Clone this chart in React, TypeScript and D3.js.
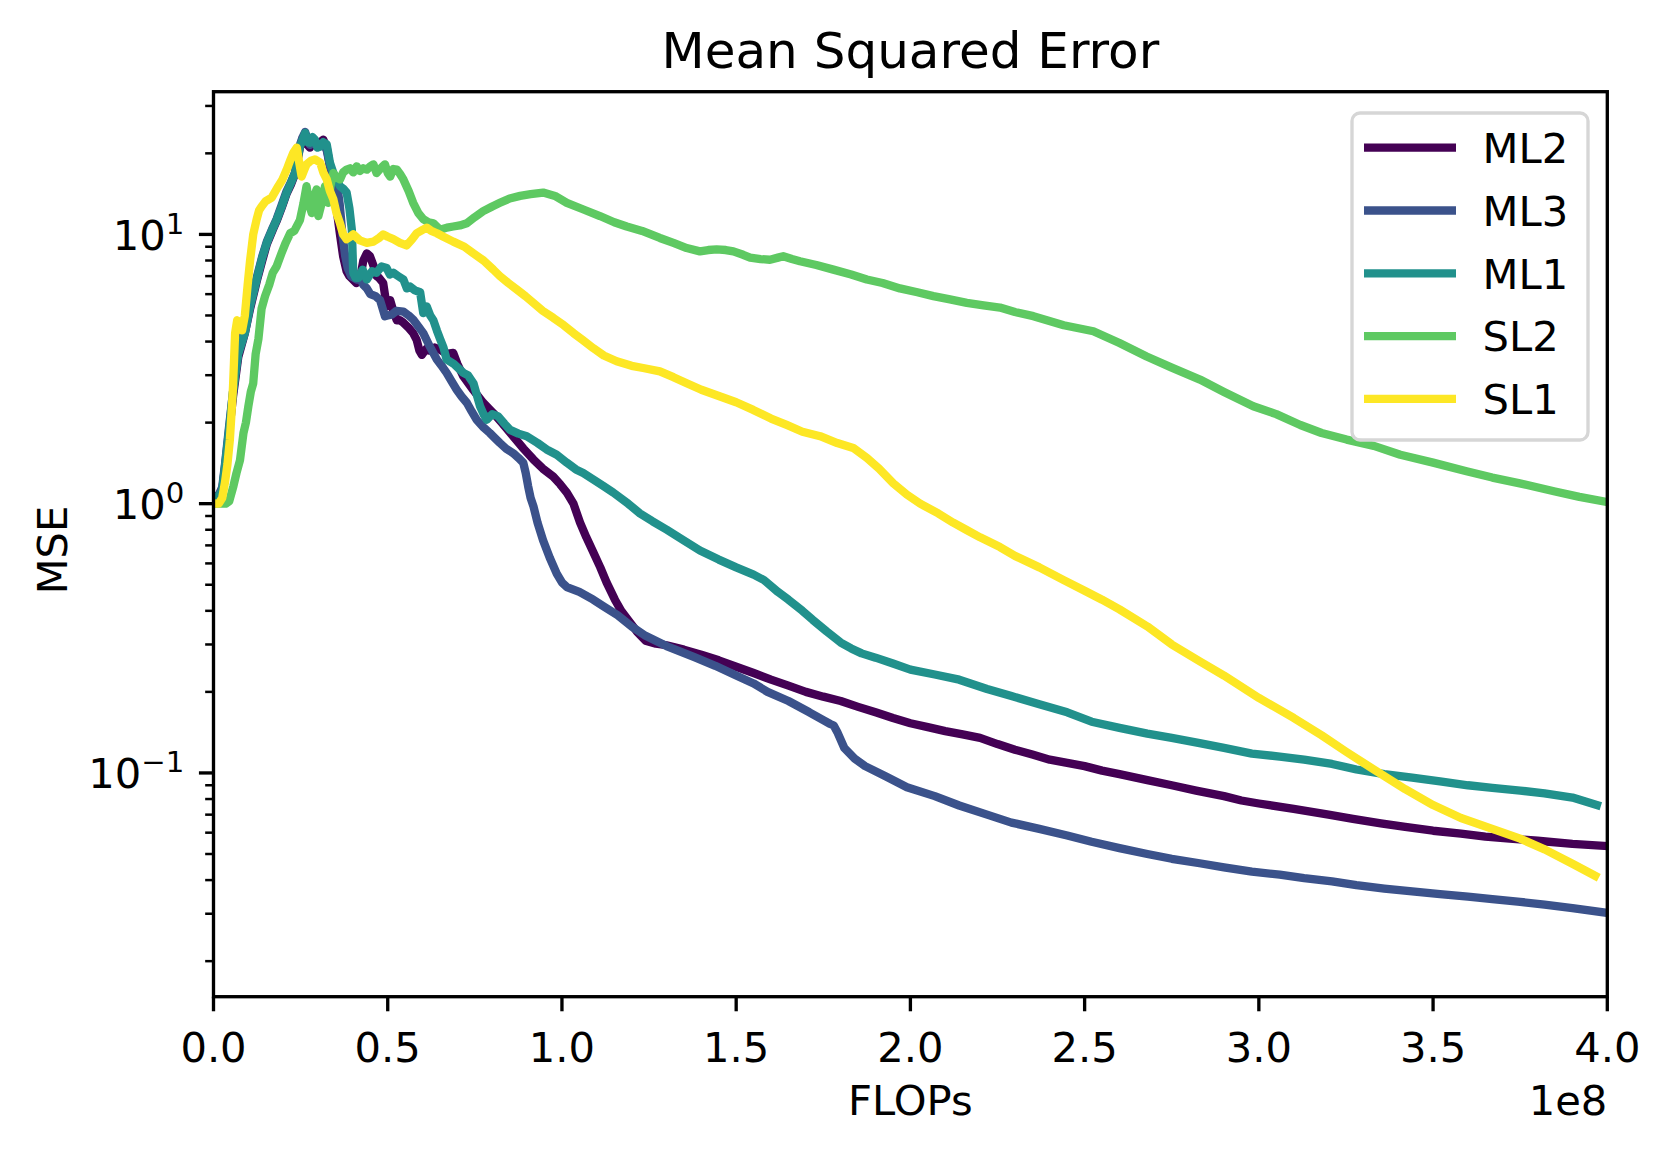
import React from 'react';
import * as d3 from 'd3';

// ---------------- data (x in units of 1e8 FLOPs) ----------------
const seriesNames = ['ML2', 'ML3', 'ML1', 'SL2', 'SL1'];
const seriesColors = ['#440154', '#3b528b', '#21918c', '#5ec962', '#fde725'];

const ml2X = [0, 0.015, 0.025, 0.033, 0.045, 0.056, 0.071, 0.09, 0.105, 0.124, 0.14, 0.153, 0.17, 0.181, 0.195, 0.21, 0.222, 0.234, 0.248, 0.256, 0.263, 0.27, 0.277, 0.284, 0.291, 0.298, 0.306, 0.315, 0.325, 0.334, 0.344, 0.353, 0.363, 0.372, 0.382, 0.39, 0.4, 0.41, 0.421, 0.43, 0.44, 0.449, 0.46, 0.468, 0.475, 0.487, 0.497, 0.507, 0.516, 0.526, 0.535, 0.545, 0.56, 0.573, 0.583, 0.591, 0.598, 0.61, 0.62, 0.635, 0.65, 0.67, 0.688, 0.7, 0.717, 0.745, 0.774, 0.803, 0.83, 0.86, 0.89, 0.918, 0.945, 0.975, 0.995, 1.014, 1.033, 1.052, 1.07, 1.09, 1.11, 1.128, 1.152, 1.17, 1.19, 1.215, 1.24, 1.27, 1.3, 1.35, 1.4, 1.45, 1.5, 1.55, 1.6, 1.65, 1.7, 1.75, 1.8, 1.85, 1.9, 1.95, 2.0, 2.05, 2.1, 2.15, 2.2, 2.25, 2.3, 2.35, 2.4, 2.45, 2.5, 2.55, 2.6, 2.68, 2.75, 2.82, 2.9, 2.95, 3.0, 3.1, 3.2, 3.27, 3.35, 3.42, 3.5, 3.58, 3.65, 3.72, 3.8, 3.9, 4.0];
const ml2Y = [1.05, 1.07, 1.12, 1.35, 1.85, 2.5, 3.5, 4.3, 5.3, 6.7, 8.0, 9.2, 10.4, 11.2, 12.5, 14.2, 15.3, 16.8, 21.0, 22.8, 23.5, 21.5, 21.0, 22.5, 22.0, 21.5, 22.0, 22.5, 21.0, 18.0, 15.5, 12.5, 10.0, 8.3, 7.3, 7.0, 6.8, 6.6, 6.9, 8.0, 8.5, 8.3, 7.6, 7.0, 6.9, 6.6, 5.4, 5.7, 5.2, 4.8, 4.8, 4.7, 4.5, 4.3, 4.06, 3.7, 3.57, 3.75, 3.7, 3.8, 3.73, 3.6, 3.63, 3.3, 2.97, 2.65, 2.37, 2.17, 1.98, 1.78, 1.6, 1.46, 1.35, 1.26, 1.18, 1.1, 1.0, 0.85, 0.75, 0.66, 0.58, 0.51, 0.44, 0.4, 0.37, 0.335, 0.31, 0.302, 0.298, 0.287, 0.275, 0.262, 0.248, 0.235, 0.222, 0.211, 0.2, 0.192, 0.185, 0.176, 0.168, 0.16, 0.153, 0.148, 0.143, 0.139, 0.135, 0.128, 0.122, 0.117, 0.112, 0.109, 0.106, 0.102, 0.099, 0.094, 0.09, 0.086, 0.082, 0.079, 0.077, 0.0735, 0.07, 0.0675, 0.065, 0.063, 0.061, 0.0595, 0.058, 0.057, 0.056, 0.0545, 0.0535];

const ml3X = [0, 0.015, 0.025, 0.033, 0.045, 0.056, 0.071, 0.09, 0.105, 0.124, 0.14, 0.153, 0.17, 0.181, 0.195, 0.21, 0.222, 0.234, 0.248, 0.256, 0.263, 0.27, 0.277, 0.284, 0.291, 0.298, 0.306, 0.315, 0.325, 0.334, 0.344, 0.354, 0.362, 0.37, 0.378, 0.385, 0.395, 0.411, 0.42, 0.43, 0.44, 0.45, 0.465, 0.478, 0.492, 0.5, 0.511, 0.525, 0.545, 0.56, 0.573, 0.588, 0.602, 0.62, 0.641, 0.655, 0.669, 0.683, 0.698, 0.712, 0.727, 0.741, 0.755, 0.775, 0.793, 0.808, 0.822, 0.84, 0.86, 0.875, 0.889, 0.896, 0.903, 0.91, 0.918, 0.93, 0.946, 0.965, 0.985, 1.0, 1.014, 1.05, 1.09, 1.12, 1.16, 1.2, 1.24, 1.3, 1.38, 1.44, 1.5, 1.55, 1.59, 1.65, 1.71, 1.75, 1.77, 1.78, 1.79, 1.81, 1.84, 1.87, 1.93, 1.99, 2.07, 2.14, 2.22, 2.29, 2.37, 2.45, 2.52, 2.6, 2.68, 2.75, 2.83, 2.9, 2.98, 3.06, 3.13, 3.21, 3.28, 3.36, 3.44, 3.52, 3.6, 3.67, 3.75, 3.82, 3.9, 4.0];
const ml3Y = [1.05, 1.08, 1.15, 1.4, 1.95, 2.6, 3.7, 4.4, 5.5, 6.9, 8.3, 9.4, 10.6, 11.4, 12.8, 14.5, 15.6, 17.0, 21.5, 23.0, 24.0, 22.5, 21.5, 22.8, 22.2, 21.2, 21.5, 21.8, 20.5, 18.0, 16.5, 15.5, 13.0, 10.0, 8.3, 7.5, 7.0, 6.8, 6.9, 6.5, 6.3, 6.0, 5.9, 5.7, 4.97, 5.0, 5.03, 5.2, 5.17, 5.0, 4.83, 4.55, 4.3, 3.85, 3.43, 3.25, 3.06, 2.85, 2.65, 2.5, 2.37, 2.2, 2.05, 1.92, 1.83, 1.75, 1.68, 1.6, 1.54, 1.48, 1.42, 1.3, 1.16, 1.05, 0.98, 0.85, 0.73, 0.63, 0.55, 0.51, 0.49, 0.47, 0.44, 0.415, 0.385, 0.35, 0.323, 0.296, 0.269, 0.25, 0.23, 0.215, 0.2, 0.185, 0.168, 0.157, 0.152, 0.15, 0.142, 0.124, 0.113, 0.106, 0.097, 0.0885, 0.082, 0.0757, 0.07, 0.0654, 0.062, 0.0586, 0.0555, 0.0526, 0.05, 0.048, 0.0462, 0.0446, 0.043, 0.0419, 0.0407, 0.0396, 0.0383, 0.0372, 0.0363, 0.0355, 0.0347, 0.034, 0.0332, 0.0324, 0.0315, 0.0302];

const ml1X = [0, 0.015, 0.025, 0.033, 0.045, 0.056, 0.071, 0.09, 0.105, 0.124, 0.14, 0.153, 0.17, 0.181, 0.195, 0.21, 0.222, 0.234, 0.248, 0.256, 0.263, 0.27, 0.277, 0.284, 0.291, 0.298, 0.306, 0.315, 0.325, 0.334, 0.344, 0.353, 0.363, 0.372, 0.382, 0.39, 0.397, 0.401, 0.408, 0.416, 0.428, 0.44, 0.455, 0.468, 0.482, 0.497, 0.506, 0.516, 0.53, 0.545, 0.555, 0.564, 0.578, 0.593, 0.602, 0.612, 0.622, 0.631, 0.641, 0.65, 0.66, 0.669, 0.69, 0.717, 0.73, 0.746, 0.755, 0.765, 0.775, 0.784, 0.8, 0.817, 0.835, 0.851, 0.875, 0.899, 0.93, 0.956, 0.985, 1.014, 1.04, 1.061, 1.09, 1.12, 1.147, 1.19, 1.224, 1.26, 1.301, 1.35, 1.396, 1.45, 1.5, 1.55, 1.58, 1.62, 1.65, 1.69, 1.72, 1.76, 1.8, 1.83, 1.86, 1.9, 1.95, 2.0, 2.07, 2.14, 2.22, 2.29, 2.37, 2.45, 2.52, 2.6, 2.68, 2.75, 2.83, 2.9, 2.98, 3.06, 3.13, 3.21, 3.28, 3.36, 3.44, 3.52, 3.6, 3.67, 3.75, 3.82, 3.9, 3.97];
const ml1Y = [1.05, 1.07, 1.12, 1.38, 1.9, 2.6, 3.6, 4.3, 5.4, 6.8, 8.2, 9.3, 10.5, 11.3, 12.6, 14.3, 15.5, 16.9, 21.2, 22.5, 23.8, 22.0, 21.9, 23.0, 22.5, 21.0, 21.2, 22.0, 21.6, 18.5, 16.9, 16.0, 15.1, 14.8, 14.3, 12.5, 10.4, 7.2, 6.9, 6.9, 7.4, 6.8, 7.3, 7.2, 7.6, 7.5, 7.1, 7.2, 7.0, 6.8, 6.3, 6.4, 6.2, 6.1, 5.1, 5.4, 5.0, 4.8, 4.4, 4.1, 3.8, 3.43, 3.3, 3.06, 3.0, 2.8, 2.55, 2.3, 2.15, 2.05, 2.15, 2.11, 1.98, 1.88, 1.82, 1.78, 1.68, 1.59, 1.52, 1.42, 1.34, 1.3, 1.23, 1.16, 1.1, 1.0, 0.92, 0.86, 0.8, 0.73, 0.67, 0.62, 0.58, 0.545, 0.52, 0.47, 0.44, 0.4, 0.37, 0.335, 0.305, 0.29, 0.278, 0.268, 0.255, 0.242, 0.232, 0.222, 0.205, 0.193, 0.18, 0.168, 0.155, 0.147, 0.14, 0.135, 0.129, 0.124, 0.118, 0.115, 0.112, 0.108, 0.103, 0.099, 0.096, 0.093, 0.09, 0.088, 0.086, 0.084, 0.081, 0.076];

const sl2X = [0, 0.02, 0.035, 0.045, 0.057, 0.066, 0.076, 0.086, 0.093, 0.1, 0.107, 0.114, 0.121, 0.129, 0.138, 0.148, 0.16, 0.17, 0.181, 0.195, 0.207, 0.22, 0.232, 0.248, 0.258, 0.267, 0.275, 0.282, 0.29, 0.296, 0.301, 0.31, 0.32, 0.329, 0.337, 0.344, 0.352, 0.363, 0.372, 0.382, 0.392, 0.401, 0.411, 0.42, 0.43, 0.44, 0.45, 0.459, 0.468, 0.48, 0.492, 0.5, 0.507, 0.516, 0.526, 0.535, 0.545, 0.56, 0.573, 0.588, 0.602, 0.617, 0.631, 0.65, 0.67, 0.688, 0.707, 0.727, 0.75, 0.774, 0.8, 0.822, 0.85, 0.88, 0.91, 0.946, 0.98, 1.014, 1.06, 1.109, 1.15, 1.186, 1.23, 1.281, 1.32, 1.358, 1.396, 1.42, 1.444, 1.47, 1.492, 1.52, 1.54, 1.57, 1.597, 1.62, 1.635, 1.66, 1.683, 1.73, 1.779, 1.83, 1.875, 1.92, 1.97, 2.02, 2.066, 2.11, 2.162, 2.21, 2.257, 2.3, 2.353, 2.44, 2.525, 2.6, 2.678, 2.75, 2.831, 2.9, 2.984, 3.05, 3.119, 3.18, 3.252, 3.33, 3.406, 3.5, 3.596, 3.67, 3.749, 3.85, 3.92, 3.99];
const sl2Y = [1.0, 1.0, 1.0, 1.02, 1.16, 1.3, 1.45, 1.83, 2.0, 2.3, 2.6, 2.8, 3.6, 4.1, 5.3, 5.9, 6.5, 7.2, 7.6, 8.5, 9.3, 10.1, 10.3, 11.3, 13.0, 15.1, 12.8, 12.0, 14.0, 14.7, 11.7, 13.0, 15.1, 13.1, 15.5, 16.9, 16.3, 16.0, 17.0, 17.4, 17.6, 17.0, 17.9, 17.2, 17.6, 17.4, 17.9, 18.2, 16.9, 17.6, 18.2, 16.9, 16.4, 17.5, 17.4, 16.8, 16.0, 14.5, 13.1, 12.0, 11.4, 11.1, 11.0, 10.4, 10.6, 10.7, 10.8, 11.0, 11.6, 12.2, 12.7, 13.1, 13.6, 13.9, 14.1, 14.3, 13.9, 13.1, 12.4, 11.7, 11.1, 10.7, 10.3, 9.7, 9.3, 8.9, 8.65, 8.75, 8.8, 8.75, 8.65, 8.4, 8.2, 8.1, 8.05, 8.2, 8.3, 8.1, 7.95, 7.7, 7.4, 7.1, 6.8, 6.6, 6.3, 6.1, 5.9, 5.75, 5.57, 5.45, 5.35, 5.15, 4.97, 4.6, 4.37, 3.95, 3.52, 3.2, 2.89, 2.6, 2.3, 2.15, 1.96, 1.83, 1.73, 1.64, 1.52, 1.42, 1.32, 1.25, 1.19, 1.11, 1.06, 1.02];

const sl1X = [0, 0.015, 0.025, 0.033, 0.04, 0.047, 0.052, 0.056, 0.062, 0.068, 0.075, 0.082, 0.09, 0.098, 0.105, 0.114, 0.124, 0.131, 0.138, 0.15, 0.167, 0.186, 0.198, 0.21, 0.22, 0.229, 0.239, 0.246, 0.253, 0.26, 0.267, 0.28, 0.291, 0.306, 0.315, 0.325, 0.334, 0.344, 0.353, 0.363, 0.372, 0.382, 0.392, 0.401, 0.42, 0.44, 0.459, 0.475, 0.487, 0.5, 0.516, 0.535, 0.554, 0.57, 0.583, 0.6, 0.612, 0.625, 0.641, 0.66, 0.688, 0.72, 0.746, 0.775, 0.803, 0.822, 0.846, 0.87, 0.895, 0.918, 0.945, 0.975, 1.005, 1.033, 1.06, 1.09, 1.12, 1.157, 1.2, 1.233, 1.281, 1.32, 1.358, 1.4, 1.454, 1.5, 1.549, 1.6, 1.645, 1.69, 1.741, 1.79, 1.836, 1.875, 1.91, 1.951, 1.99, 2.028, 2.08, 2.123, 2.16, 2.2, 2.257, 2.3, 2.37, 2.44, 2.5, 2.55, 2.6, 2.68, 2.75, 2.83, 2.9, 3.0, 3.1, 3.18, 3.25, 3.33, 3.42, 3.5, 3.58, 3.67, 3.75, 3.82, 3.9, 3.965];
const sl1Y = [1.0, 1.0, 1.05, 1.2, 1.4, 1.73, 2.2, 2.72, 4.3, 4.8, 4.5, 4.4, 5.0, 6.5, 8.0, 10.0, 11.4, 12.3, 12.7, 13.3, 13.7, 15.1, 16.0, 17.4, 18.8, 20.1, 21.0, 18.5, 16.4, 17.3, 18.2, 18.8, 19.0, 18.5, 17.0, 16.0, 14.5, 13.5, 12.0, 11.0, 10.0, 9.6, 9.8, 10.0, 9.5, 9.3, 9.4, 9.7, 10.0, 9.8, 9.6, 9.3, 9.1, 9.6, 10.1, 10.4, 10.6, 10.3, 10.1, 9.8, 9.4, 9.0, 8.5, 8.0, 7.4, 7.0, 6.6, 6.25, 5.9, 5.57, 5.2, 4.9, 4.6, 4.3, 4.05, 3.78, 3.55, 3.38, 3.25, 3.19, 3.1, 2.95, 2.8, 2.65, 2.5, 2.38, 2.23, 2.07, 1.96, 1.85, 1.78, 1.68, 1.61, 1.48, 1.35, 1.19, 1.08, 1.0, 0.92, 0.85, 0.8, 0.75, 0.69, 0.64, 0.58, 0.52, 0.475, 0.44, 0.405, 0.35, 0.3, 0.26, 0.23, 0.19, 0.16, 0.138, 0.12, 0.103, 0.087, 0.076, 0.068, 0.062, 0.057, 0.052, 0.046, 0.0415];

const seriesX = [ml2X, ml3X, ml1X, sl2X, sl1X];
const seriesY = [ml2Y, ml3Y, ml1Y, sl2Y, sl1Y];

const xTicks = [0, 0.5, 1.0, 1.5, 2.0, 2.5, 3.0, 3.5, 4.0];
const yMajorTicks = [0.1, 1, 10];
const yMajorExponents = ['\u22121', '0', '1'];
const yMinorMultipliers = [2, 3, 4, 5, 6, 7, 8, 9];
const titleText = 'Mean Squared Error';
const xLabelText = 'FLOPs';
const yLabelText = 'MSE';
const xOffsetText = '1e8';

// ---------------- layout ----------------
const W = 1671;
const H = 1158;
const L = 213.5;
const R = 1607.3;
const T = 91.7;
const B = 996.7;
const FS = 41.67;
const FONT = '"DejaVu Sans", Verdana, sans-serif';

export default function App() {
  const x = d3.scaleLinear().domain([0, 4]).range([L, R]);
  const y = d3.scaleLog().domain([Math.pow(10, -1.831), Math.pow(10, 1.53)]).range([B, T]);

  const line = d3
    .line<[number, number]>()
    .x((d) => x(d[0]))
    .y((d) => y(d[1]));

  const minorTicks: number[] = [];
  for (const p of [-2, -1, 0, 1]) {
    for (const m of yMinorMultipliers) {
      const v = m * Math.pow(10, p);
      if (v >= y.domain()[0] && v <= y.domain()[1]) minorTicks.push(v);
    }
  }

  const legX = 1352;
  const legY = 113;
  const legW = 236;
  const legH = 327;
  const rowY = (i: number) => 147.7 + i * 62.8;

  return (
    <svg
      width={W}
      height={H}
      style={{ position: 'absolute', left: 0, top: 0, display: 'block', background: '#fff' }}
      fontFamily={FONT}
    >
      <rect x={0} y={0} width={W} height={H} fill="#ffffff" />
      <defs>
        <clipPath id="plotClip">
          <rect x={L} y={T} width={R - L} height={B - T} />
        </clipPath>
      </defs>

      {/* data lines */}
      <g clipPath="url(#plotClip)">
        {seriesNames.map((name, i) => {
          const pts: [number, number][] = seriesX[i].map((xv, j) => [xv, seriesY[i][j]]);
          return (
            <path
              key={name}
              d={line(pts) || ''}
              fill="none"
              stroke={seriesColors[i]}
              strokeWidth={8.33}
              strokeLinejoin="round"
              strokeLinecap="square"
            />
          );
        })}
      </g>

      {/* spines */}
      <rect x={L} y={T} width={R - L} height={B - T} fill="none" stroke="#000" strokeWidth={3.33} strokeLinejoin="miter" />

      {/* x ticks */}
      {xTicks.map((t) => (
        <g key={'xt' + t}>
          <line x1={x(t)} x2={x(t)} y1={B} y2={B + 14.58} stroke="#000" strokeWidth={3.33} />
          <text x={x(t)} y={1061.7} textAnchor="middle" fontSize={FS} fill="#000">
            {t.toFixed(1)}
          </text>
        </g>
      ))}

      {/* y minor ticks */}
      {minorTicks.map((t) => (
        <line key={'ym' + t} x1={L} x2={L - 8.33} y1={y(t)} y2={y(t)} stroke="#000" strokeWidth={2.5} />
      ))}

      {/* y major ticks */}
      {yMajorTicks.map((t, i) => (
        <g key={'yt' + t}>
          <line x1={L} x2={L - 14.58} y1={y(t)} y2={y(t)} stroke="#000" strokeWidth={3.33} />
          <text x={L - 14.58 - 14.58} y={y(t) + 15.3} textAnchor="end" fontSize={FS} fill="#000">
            <tspan>10</tspan>
            <tspan fontSize={29.2} dy={-16}>
              {yMajorExponents[i]}
            </tspan>
          </text>
        </g>
      ))}

      {/* title and labels */}
      <text x={(L + R) / 2} y={68.3} textAnchor="middle" fontSize={50} fill="#000">
        {titleText}
      </text>
      <text x={(L + R) / 2} y={1115} textAnchor="middle" fontSize={FS} fill="#000">
        {xLabelText}
      </text>
      <text x={R} y={1115} textAnchor="end" fontSize={FS} fill="#000">
        {xOffsetText}
      </text>
      <text transform={`translate(67,550) rotate(-90)`} textAnchor="middle" fontSize={FS} fill="#000">
        {yLabelText}
      </text>

      {/* legend */}
      <rect x={legX} y={legY} width={legW} height={legH} rx={8} ry={8} fill="#ffffff" fillOpacity={0.8} stroke="#d6d6d6" strokeWidth={3.33} />
      {seriesNames.map((name, i) => (
        <g key={'leg' + name}>
          <line x1={1364} x2={1456} y1={rowY(i)} y2={rowY(i)} stroke={seriesColors[i]} strokeWidth={8.33} />
          <text x={1482.6} y={rowY(i) + 15.2} fontSize={FS} fill="#000">
            {name}
          </text>
        </g>
      ))}
    </svg>
  );
}
